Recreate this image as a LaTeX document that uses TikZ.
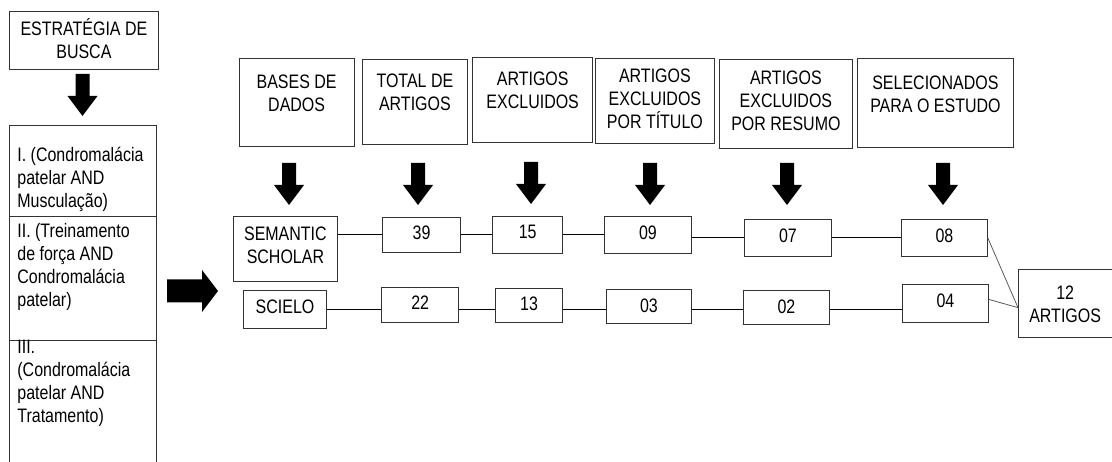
\documentclass[tikz,border=0pt]{standalone}
\usepackage{fontspec}
\setmainfont[FakeStretch=0.82]{Liberation Sans}
\newcommand{\boxtext}[4]{\parbox[c][#2pt][t]{#1pt}{\centering\vspace*{#3pt}#4}}

\tikzset{
    box/.style={draw=black!80, line width=0.8pt, inner sep=0pt, anchor=north west},
    query/.style={box, inner xsep=8pt},
    link/.style={line width=0.8pt},
    bigdown/.pic={\fill (-7,0) -- (7,0) -- (7,22) -- (15,22) -- (0,42) -- (-15,22) -- (-7,22) -- cycle;},
    bigright/.pic={\fill (0,-11.5) -- (35,-11.5) -- (35,-21) -- (51,0) -- (35,21) -- (35,11.5) -- (0,11.5) -- cycle;}
}

\begin{document}
\begin{tikzpicture}[x=1pt, y=-1pt, font=\fontsize{19.5}{23}\selectfont]
    \useasboundingbox (0,0) rectangle (1112,462);

    \node[box] (busca) at (9,11) {\boxtext{149}{58}{7}{ESTRATÉGIA DE\\BUSCA}};
    \pic at (82.5,74) {bigdown};
    \node[query] (q1) at (9,125) {\boxtext{131}{91}{22}{\raggedright I. (Condromalácia\\patelar AND\\Musculação)}};
    \node[query] (q2) at (9,216) {\boxtext{131}{124}{6.5}{\raggedright II. (Treinamento\\de força AND\\Condromalácia\\patelar)}};
    \node[query] (q3) at (9,340) {\boxtext{131}{140}{0}{\raggedright III.\\(Condromalácia\\patelar AND\\Tratamento)}};
    \pic at (167,291) {bigright};

    \node[box] (bases) at (238.5,57.7) {\boxtext{115.5}{88}{16.5}{BASES DE\\DADOS}};
    \node[box] (total) at (362,59) {\boxtext{105}{85}{14.5}{TOTAL DE\\ARTIGOS}};
    \node[box] (excl) at (472.3,57) {\boxtext{120}{85.3}{14.7}{ARTIGOS\\EXCLUIDOS}};
    \node[box] (titulo) at (595,58) {\boxtext{119}{85}{10}{ARTIGOS\\EXCLUIDOS\\POR TÍTULO}};
    \node[box] (resumo) at (719,59) {\boxtext{133}{89}{11}{ARTIGOS\\EXCLUIDOS\\POR RESUMO}};
    \node[box] (selec) at (857,58) {\boxtext{156}{89}{17}{SELECIONADOS\\PARA O ESTUDO}};

    \foreach \x/\y in {289/163, 418/163, 531/162, 650/163, 787/163, 943/163}
        \pic at (\x,\y) {bigdown};

    \node[box] (sem) at (232.7,215.7) {\boxtext{104.6}{65.3}{11}{SEMANTIC\\SCHOLAR}};
    \node[box] (n39) at (382.3,216.7) {\boxtext{77.7}{35}{8.3}{39}};
    \node[box] (n15) at (492.3,215.7) {\boxtext{70}{37}{8.6}{15}};
    \node[box] (n09) at (604,216) {\boxtext{87}{37}{9}{09}};
    \node[box] (n07) at (744,219) {\boxtext{87}{37}{9.3}{07}};
    \node[box] (n08) at (901,219) {\boxtext{86}{37}{9.3}{08}};

    \node[box] (sci) at (243.3,290) {\boxtext{82.7}{38.3}{9.3}{SCIELO}};
    \node[box] (n22) at (381.3,286.7) {\boxtext{77}{35}{8.3}{22}};
    \node[box] (n13) at (495,287.7) {\boxtext{67.3}{34.6}{9}{13}};
    \node[box] (n03) at (606,289) {\boxtext{85}{34}{9.3}{03}};
    \node[box] (n02) at (743,290) {\boxtext{86}{34}{9}{02}};
    \node[box] (n04) at (902,284) {\boxtext{86}{38}{9.3}{04}};

    \node[box] (twelve) at (1018,269) {\boxtext{93.5}{68.5}{16}{12\\ARTIGOS}};

    \foreach \a/\b in {sem/n39, n39/n15, n15/n09, n09/n07, n07/n08}
        \draw[link] (\a.east |- \b.west) -- (\b.west);
    \foreach \a/\b in {sci/n22, n22/n13, n13/n03, n03/n02, n02/n04}
        \draw[link] (\a.east |- sci.east) -- (\b.west |- sci.east);
    \draw[link, black!65] (n08.east) -- ([yshift=-4pt]twelve.west);
    \draw[link, black!65] ([yshift=4pt]n04.east) -- ([yshift=-4pt]twelve.west);
\end{tikzpicture}
\end{document}
